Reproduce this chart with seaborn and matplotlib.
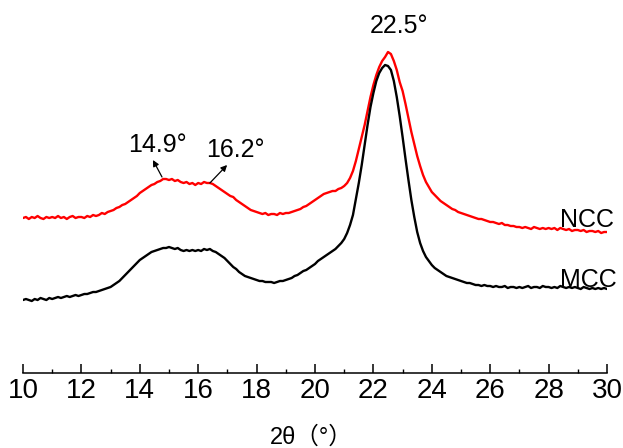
import matplotlib
matplotlib.use("Agg")
import matplotlib.pyplot as plt
from matplotlib.ticker import MultipleLocator
import numpy as np
import pandas as pd
import seaborn as sns

# scan grid, 2theta in degrees (step 0.1)
two_theta = np.round(np.arange(10.0, 30.05, 0.1), 1)

# NCC intensity (a.u.)
ncc = [155, 156, 154, 156, 155, 157, 155, 154, 156, 155,
       156, 155, 157, 155, 156, 154, 156, 157, 155, 156,
       156, 155, 157, 156, 158, 157, 158, 160, 159, 161,
       162, 163, 165, 166, 168, 169, 171, 173, 175, 177,
       180, 182, 184, 186, 188, 189, 191, 192, 194, 194,
       193, 194, 192, 193, 191, 190, 191, 189, 190, 188,
       190, 189, 191, 190, 190, 189, 187, 185, 183, 181,
       179, 177, 176, 173, 171, 169, 167, 165, 163, 162,
       161, 160, 159, 160, 158, 159, 159, 158, 160, 159,
       160, 160, 161, 162, 163, 164, 166, 167, 169, 171,
       173, 175, 177, 179, 180, 181, 182, 182, 184, 185,
       187, 190, 195, 202, 212, 224, 236, 248, 262, 276,
       288, 298, 306, 312, 316, 321, 319, 312, 303, 291,
       282, 269, 255, 241, 229, 217, 207, 198, 191, 186,
       181, 178, 175, 172, 170, 168, 166, 164, 163, 161,
       160, 159, 158, 157, 156, 155, 154, 154, 153, 152,
       151, 151, 150, 149, 150, 148, 148, 147, 147, 146,
       146, 145, 146, 145, 144, 146, 145, 144, 145, 144,
       145, 144, 145, 143, 145, 144, 143, 144, 142, 143,
       143, 142, 143, 141, 142, 142, 141, 142, 140, 141, 141]

# MCC intensity (a.u.)
mcc = [73, 74, 73, 72, 74, 73, 75, 74, 73, 75,
       74, 75, 76, 75, 76, 77, 76, 77, 78, 77,
       78, 79, 79, 80, 81, 81, 82, 83, 84, 85,
       86, 88, 90, 92, 95, 98, 101, 104, 107, 110,
       113, 115, 117, 119, 121, 122, 123, 124, 125, 125,
       126, 125, 124, 125, 123, 122, 123, 122, 123, 122,
       123, 122, 124, 123, 124, 122, 121, 119, 117, 115,
       112, 109, 106, 104, 101, 99, 97, 96, 95, 94,
       93, 92, 92, 91, 91, 91, 90, 91, 92, 92,
       93, 94, 95, 97, 98, 100, 102, 103, 105, 107,
       109, 112, 114, 116, 118, 120, 122, 124, 127, 130,
       134, 140, 148, 158, 174, 190, 208, 228, 248, 266,
       280, 292, 300, 305, 308, 307, 303, 292, 276, 257,
       236, 214, 193, 173, 156, 141, 130, 122, 116, 112,
       108, 105, 103, 101, 99, 97, 96, 95, 94, 93,
       92, 91, 90, 90, 89, 88, 88, 87, 88, 87,
       87, 86, 87, 86, 86, 87, 85, 86, 86, 85,
       86, 85, 86, 87, 85, 86, 86, 85, 87, 86,
       86, 85, 86, 85, 87, 86, 85, 86, 85, 86,
       85, 84, 86, 85, 84, 85, 84, 85, 84, 85, 84]

samples = ["NCC", "MCC"]
colors = {"NCC": "#ff0000", "MCC": "#000000"}

df = pd.concat([
    pd.DataFrame({"2theta": two_theta, "intensity": ncc, "sample": "NCC"}),
    pd.DataFrame({"2theta": two_theta, "intensity": mcc, "sample": "MCC"}),
])

sns.set_style("white")
plt.rcParams['font.family'] = ['Liberation Sans', 'Noto Sans CJK SC', 'DejaVu Sans']
plt.rcParams['text.color'] = 'black'
plt.rcParams['xtick.color'] = 'black'

fig = plt.figure(figsize=(6.23, 4.48), dpi=100)
ax = fig.add_axes([23 / 623, 75 / 448, 584 / 623, 373 / 448])

sns.lineplot(data=df, x="2theta", y="intensity", hue="sample", hue_order=samples,
             palette=colors, linewidth=1.7, legend=False, ax=ax, sort=False)

ax.set_xlim(10, 30)
ax.set_ylim(0, 373)
for s in ["left", "top", "right"]:
    ax.spines[s].set_visible(False)
ax.spines["bottom"].set_linewidth(1.1)
ax.spines["bottom"].set_color("black")
ax.set_yticks([])
ax.xaxis.set_major_locator(MultipleLocator(2))
ax.xaxis.set_minor_locator(MultipleLocator(1))
ax.tick_params(axis="x", which="major", direction="in", length=6.5, width=1.1,
               labelsize=20, pad=3.5, colors="black", bottom=True)
ax.tick_params(axis="x", which="minor", direction="in", length=3, width=1.0,
               colors="black", bottom=True)
ax.set_xlabel("")
ax.set_ylabel("")

# peak labels with arrows
arrow = dict(arrowstyle="-|>", color="black", lw=0.9, mutation_scale=9,
             shrinkA=0, shrinkB=0)
ax.annotate("", xy=(14.45, 213), xytext=(14.76, 196), arrowprops=arrow)
ax.annotate("", xy=(16.99, 208), xytext=(16.40, 190), arrowprops=arrow)
ax.text(14.59, 221, "14.9°", fontsize=18, ha="center", va="baseline", color="black")
ax.text(17.26, 216, "16.2°", fontsize=18, ha="center", va="baseline", color="black")
ax.text(22.88, 340, "22.5°", fontsize=18, ha="center", va="baseline", color="black")
ax.text(28.39, 146, "NCC", fontsize=18, ha="left", va="baseline", color="black")
ax.text(28.39, 86, "MCC", fontsize=18, ha="left", va="baseline", color="black")

fig.text(311 / 623, 4 / 448, "2θ（°）", fontsize=17, ha="center", va="baseline",
         color="black")

fig.savefig("out.png", dpi=100)
